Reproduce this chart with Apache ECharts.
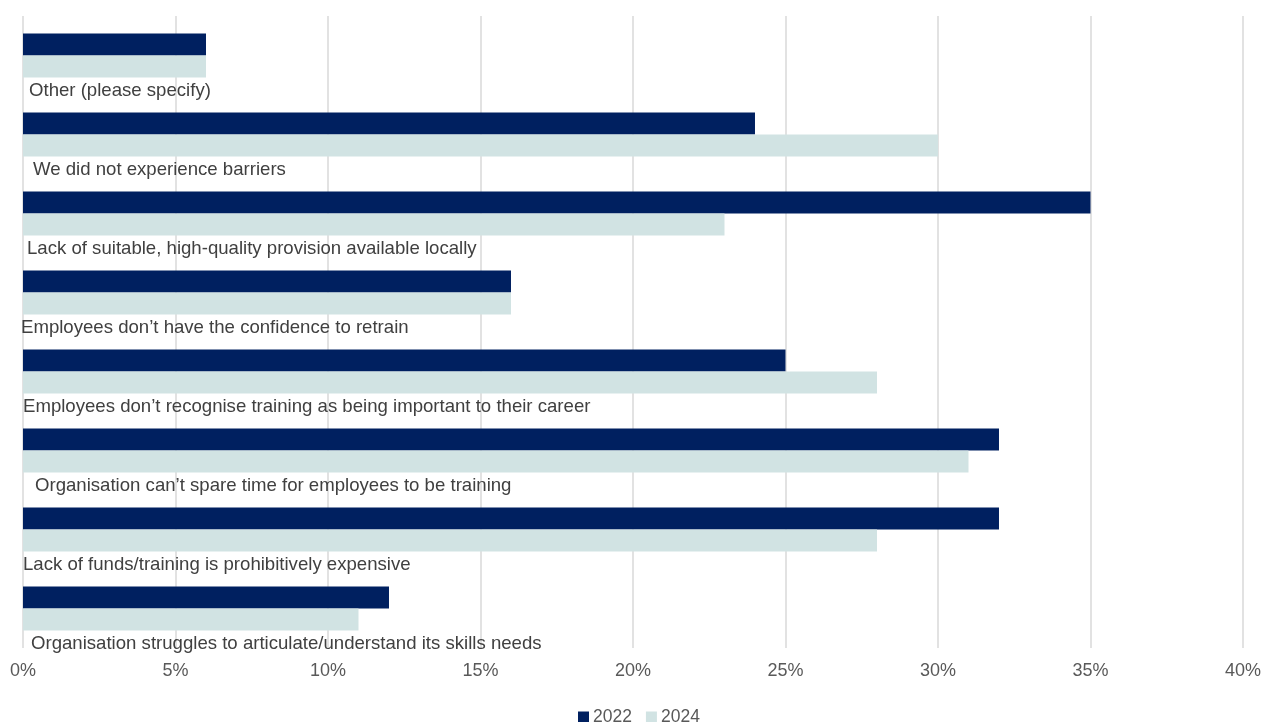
<!DOCTYPE html>
<html>
<head>
<meta charset="utf-8">
<script src="https://cdn.jsdelivr.net/npm/echarts@6/dist/echarts.min.js"></script>
<style>
  html, body { margin: 0; padding: 0; background: #fff; }
  #chart { width: 1264px; height: 722px; }
</style>
</head>
<body>
<div id="chart"></div>
<script>
// categories top to bottom
var categories = [
  "Other (please specify)",
  "We did not experience barriers",
  "Lack of suitable, high-quality provision available locally",
  "Employees don\u2019t have the confidence to retrain",
  "Employees don\u2019t recognise training as being important to their career",
  "Organisation can\u2019t spare time for employees to be training",
  "Lack of funds/training is prohibitively expensive",
  "Organisation struggles to articulate/understand its skills needs"
];
var values2022 = [6, 24, 35, 16, 25, 32, 32, 12];
var values2024 = [6, 30, 23, 16, 28, 31, 28, 11];

var chart = echarts.init(document.getElementById("chart"));

// label indents (the original text boxes are not perfectly aligned)
var indent = [8, 12, 6, 0, 2, 14, 2, 10];
var rich = {};
indent.forEach(function (v, i) {
  rich["l" + i] = { padding: [0, 0, 0, v], fontSize: 18.6, color: "#404040", fontFamily: "Liberation Sans, Arial, sans-serif" };
});

var option = {
  animation: false,
  textStyle: { fontFamily: "Liberation Sans, Arial, sans-serif" },
  grid: { left: 23, right: 21, top: 16, bottom: 74, containLabel: false },
  legend: {
    top: 703,
    left: 573,
    icon: "rect",
    itemWidth: 11,
    itemHeight: 11,
    itemGap: 14,
    textStyle: { color: "#595959", fontSize: 17.5, padding: [0, 0, 0, -1] },
    data: ["2022", "2024"]
  },
  xAxis: {
    type: "value",
    min: 0,
    max: 40,
    interval: 5,
    axisLine: { show: false },
    axisTick: { show: false },
    axisLabel: {
      color: "#595959",
      fontSize: 18,
      margin: 14,
      formatter: "{value}%"
    },
    splitLine: { show: true, lineStyle: { color: "#D9D9D9", width: 1.5 } }
  },
  yAxis: {
    type: "category",
    inverse: true,
    data: categories,
    axisLine: { show: false },
    axisTick: { show: false },
    axisLabel: {
      inside: true,
      margin: -2,
      verticalAlign: "top",
      align: "left",
      padding: [26, 0, 0, 0],
      formatter: function (val, idx) {
        return "{l" + idx + "|" + val + "}";
      },
      rich: rich
    },
    z: 10
  },
  series: [
    {
      name: "2022",
      type: "bar",
      barWidth: 22,
      barGap: "0%",
      itemStyle: { color: "#002060" },
      data: values2022
    },
    {
      name: "2024",
      type: "bar",
      barWidth: 22,
      barGap: "0%",
      itemStyle: { color: "#D1E3E3" },
      data: values2024
    }
  ]
};

chart.setOption(option);
</script>
</body>
</html>
